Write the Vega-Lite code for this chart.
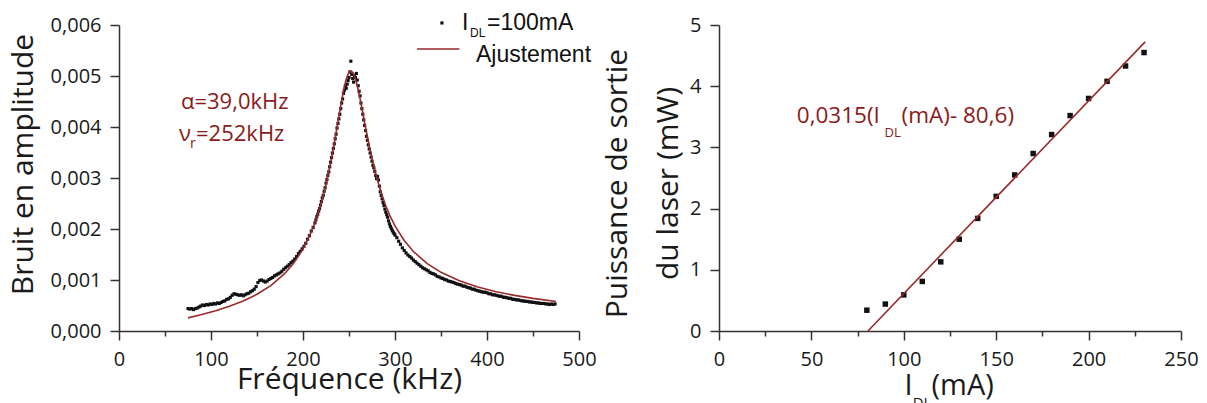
{
  "$schema": "https://vega.github.io/schema/vega-lite/v6.json",
  "autosize": {"type": "pad"},
  "padding": {"left": 8, "top": 11, "right": 0, "bottom": 0},
  "background": "white",
  "config": {
    "view": {"stroke": null},
    "font": "Open Sans",
    "axis": {"grid": false, "domainColor": "#333333", "domainWidth": 1.5, "tickColor": "#333333", "tickWidth": 1.5, "labelFont": "Open Sans", "labelFontSize": 20, "labelColor": "#1a1a1a", "titleFont": "Open Sans", "titleFontSize": 30, "titleFontWeight": "normal", "titleColor": "#1a1a1a", "labelPadding": 9, "labelFlush": false, "labelOverlap": false}
  },
  "spacing": 140,
  "bounds": "flush",
  "datasets": {
    "noise": [
      {"f":75,"a":0.00044},{"f":77,"a":0.00043},{"f":79,"a":0.00044},{"f":81,"a":0.00042},{"f":83,"a":0.00044},{"f":85,"a":0.00045},{"f":87,"a":0.00047},{"f":89,"a":0.00049},{"f":91,"a":0.00051},{"f":93,"a":0.0005},{"f":95,"a":0.00052},{"f":97,"a":0.00051},{"f":99,"a":0.00053},{"f":101,"a":0.00052},{"f":103,"a":0.00054},{"f":105,"a":0.00053},{"f":107,"a":0.00055},{"f":109,"a":0.00054},{"f":111,"a":0.00056},{"f":113,"a":0.00058},{"f":115,"a":0.00059},{"f":117,"a":0.00062},{"f":119,"a":0.00063},{"f":121,"a":0.00066},{"f":123,"a":0.0007},{"f":125,"a":0.00073},{"f":127,"a":0.00072},{"f":129,"a":0.00071},{"f":131,"a":0.0007},{"f":133,"a":0.00071},{"f":135,"a":0.00069},{"f":137,"a":0.00071},{"f":139,"a":0.00073},{"f":141,"a":0.00074},{"f":143,"a":0.00077},{"f":145,"a":0.00079},{"f":147,"a":0.00082},{"f":149,"a":0.00087},{"f":151,"a":0.00095},{"f":153,"a":0.00099},{"f":155,"a":0.001},{"f":157,"a":0.00098},{"f":159,"a":0.00096},{"f":161,"a":0.00098},{"f":163,"a":0.00101},{"f":165,"a":0.00103},{"f":167,"a":0.00105},{"f":169,"a":0.00108},{"f":171,"a":0.0011},{"f":173,"a":0.00112},{"f":175,"a":0.00114},{"f":177,"a":0.00117},{"f":179,"a":0.00121},{"f":181,"a":0.00124},{"f":183,"a":0.00127},{"f":185,"a":0.0013},{"f":187,"a":0.00134},{"f":189,"a":0.00137},{"f":191,"a":0.00141},{"f":193,"a":0.00146},{"f":195,"a":0.00152},{"f":197,"a":0.00156},{"f":199,"a":0.00161},{"f":201,"a":0.00166},{"f":203,"a":0.00172},{"f":205,"a":0.0018},{"f":207,"a":0.00187},{"f":209,"a":0.00196},{"f":211,"a":0.00203},{"f":213,"a":0.00212},
      {"f":214,"a":0.00218},{"f":215,"a":0.00224},{"f":216,"a":0.00229},{"f":217,"a":0.00235},{"f":218,"a":0.0024},{"f":219,"a":0.00247},{"f":220,"a":0.00254},{"f":221,"a":0.00261},{"f":222,"a":0.00266},{"f":223,"a":0.00274},{"f":224,"a":0.00281},{"f":225,"a":0.0029},{"f":226,"a":0.00297},{"f":227,"a":0.00305},{"f":228,"a":0.00312},{"f":229,"a":0.00322},{"f":230,"a":0.00331},{"f":231,"a":0.0034},{"f":232,"a":0.00349},{"f":233,"a":0.00358},{"f":234,"a":0.00367},{"f":235,"a":0.00377},{"f":236,"a":0.00386},{"f":237,"a":0.00398},{"f":238,"a":0.00407},{"f":239,"a":0.00416},{"f":240,"a":0.00425},{"f":241,"a":0.00436},{"f":242,"a":0.00447},{"f":243,"a":0.00455},{"f":244,"a":0.00466},{"f":245,"a":0.00472},{"f":246,"a":0.0048},{"f":247,"a":0.00476},{"f":248,"a":0.00484},{"f":249,"a":0.00491},{"f":250,"a":0.00497},{"f":251,"a":0.00508},{"f":252,"a":0.00529},{"f":253,"a":0.00503},{"f":254,"a":0.00495},{"f":255,"a":0.00488},{"f":256,"a":0.00501},{"f":257,"a":0.00497},{"f":258,"a":0.00505},{"f":259,"a":0.00492},{"f":260,"a":0.00481},{"f":261,"a":0.0047},{"f":262,"a":0.00461},{"f":263,"a":0.00447},{"f":264,"a":0.00436},{"f":265,"a":0.00425},{"f":266,"a":0.00414},{"f":267,"a":0.00403},{"f":268,"a":0.00393},{"f":269,"a":0.00382},{"f":270,"a":0.00374},{"f":271,"a":0.00365},{"f":272,"a":0.00357},{"f":273,"a":0.00349},{"f":274,"a":0.00341},{"f":275,"a":0.00333},{"f":276,"a":0.00325},{"f":277,"a":0.0032},{"f":278,"a":0.00313},{"f":279,"a":0.00305},{"f":280,"a":0.00299},{"f":281,"a":0.00303},{"f":282,"a":0.00296},{"f":283,"a":0.00284},{"f":284,"a":0.00273},{"f":285,"a":0.00266},{"f":286,"a":0.00259},{"f":287,"a":0.00252},{"f":288,"a":0.00246},{"f":289,"a":0.00239},{"f":290,"a":0.00233},{"f":291,"a":0.00228},{"f":292,"a":0.00223},{"f":293,"a":0.00216},{"f":294,"a":0.0021},{"f":295,"a":0.00205},{"f":296,"a":0.00201},{"f":297,"a":0.00197},{"f":298,"a":0.00194},{"f":299,"a":0.00191},{"f":300,"a":0.00188},
      {"f":302,"a":0.00183},{"f":304,"a":0.00176},{"f":306,"a":0.0017},{"f":308,"a":0.00163},{"f":310,"a":0.00158},{"f":312,"a":0.00153},{"f":314,"a":0.00149},{"f":316,"a":0.00146},{"f":318,"a":0.00143},{"f":320,"a":0.00139},{"f":322,"a":0.00136},{"f":324,"a":0.00133},{"f":326,"a":0.0013},{"f":328,"a":0.00127},{"f":330,"a":0.00124},{"f":332,"a":0.00122},{"f":334,"a":0.0012},{"f":336,"a":0.00118},{"f":338,"a":0.00115},{"f":340,"a":0.00113},{"f":342,"a":0.00112},{"f":344,"a":0.0011},{"f":346,"a":0.00107},{"f":348,"a":0.00106},{"f":350,"a":0.00104},{"f":352,"a":0.00103},{"f":354,"a":0.00101},{"f":356,"a":0.001},{"f":358,"a":0.00098},{"f":360,"a":0.00097},{"f":362,"a":0.00096},{"f":364,"a":0.00095},{"f":366,"a":0.00093},{"f":368,"a":0.00092},{"f":370,"a":0.00091},{"f":372,"a":0.0009},{"f":374,"a":0.00088},{"f":376,"a":0.00088},{"f":378,"a":0.00086},{"f":380,"a":0.00085},{"f":382,"a":0.00084},{"f":384,"a":0.00082},{"f":386,"a":0.00082},{"f":388,"a":0.0008},{"f":390,"a":0.00079},{"f":392,"a":0.00078},{"f":394,"a":0.00077},{"f":396,"a":0.00076},{"f":398,"a":0.00076},{"f":400,"a":0.00075},{"f":402,"a":0.00073},{"f":404,"a":0.00073},{"f":406,"a":0.00071},{"f":408,"a":0.00071},{"f":410,"a":0.0007},{"f":412,"a":0.00069},{"f":414,"a":0.00068},{"f":416,"a":0.00068},{"f":418,"a":0.00066},{"f":420,"a":0.00066},{"f":422,"a":0.00065},{"f":424,"a":0.00064},{"f":426,"a":0.00064},{"f":428,"a":0.00062},{"f":430,"a":0.00062},{"f":432,"a":0.00061},{"f":434,"a":0.00061},{"f":436,"a":0.0006},{"f":438,"a":0.00059},{"f":440,"a":0.00059},{"f":442,"a":0.00058},{"f":444,"a":0.00058},{"f":446,"a":0.00057},{"f":448,"a":0.00057},{"f":450,"a":0.00056},{"f":452,"a":0.00056},{"f":454,"a":0.00055},{"f":456,"a":0.00055},{"f":458,"a":0.00054},{"f":460,"a":0.00054},{"f":462,"a":0.00054},{"f":464,"a":0.00053},{"f":466,"a":0.00053},{"f":468,"a":0.00052},{"f":470,"a":0.00053},{"f":472,"a":0.00052},{"f":474,"a":0.00053}
    ],
    "fit": [
      {"f":75,"a":0.000257},{"f":90,"a":0.000323},{"f":105,"a":0.000397},{"f":120,"a":0.000484},{"f":135,"a":0.000589},{"f":150,"a":0.00072},{"f":165,"a":0.000891},{"f":180,"a":0.001123},{"f":190,"a":0.001331},{"f":200,"a":0.001606},{"f":210,"a":0.001983},{"f":215,"a":0.002227},{"f":220,"a":0.002519},{"f":225,"a":0.002872},{"f":230,"a":0.003294},{"f":232,"a":0.003483},{"f":235,"a":0.003785},{"f":238,"a":0.004101},{"f":240,"a":0.004314},{"f":242,"a":0.004518},{"f":244,"a":0.004707},{"f":246,"a":0.004869},{"f":248,"a":0.004994},{"f":250,"a":0.005073},{"f":252,"a":0.0051},{"f":254,"a":0.005074},{"f":256,"a":0.004998},{"f":258,"a":0.004879},{"f":260,"a":0.004729},{"f":262,"a":0.004556},{"f":264,"a":0.004371},{"f":268,"a":0.00399},{"f":272,"a":0.003628},{"f":276,"a":0.003302},{"f":280,"a":0.003015},{"f":285,"a":0.00271},{"f":290,"a":0.002455},{"f":295,"a":0.002241},{"f":300,"a":0.00206},{"f":310,"a":0.001774},{"f":320,"a":0.001558},{"f":335,"a":0.001321},{"f":350,"a":0.00115},{"f":370,"a":0.000984},{"f":390,"a":0.000863},{"f":410,"a":0.000771},{"f":430,"a":0.000698},{"f":450,"a":0.000639},{"f":475,"a":0.000579}
    ],
    "meas": [
      {"i":80,"p":0.34},{"i":90,"p":0.44},{"i":100,"p":0.59},{"i":110,"p":0.81},{"i":120,"p":1.13},{"i":130,"p":1.5},{"i":140,"p":1.84},{"i":150,"p":2.2},{"i":160,"p":2.55},{"i":170,"p":2.9},{"i":180,"p":3.21},{"i":190,"p":3.52},{"i":200,"p":3.8},{"i":210,"p":4.08},{"i":220,"p":4.33},{"i":230,"p":4.55}
    ],
    "lin": [{"i":80.6,"p":0},{"i":230.6,"p":4.725}]
  },
  "hconcat": [
    {
      "width": 460,
      "height": 306,
      "layer": [
        {
          "data": {"name": "noise"},
          "mark": {"type": "point", "shape": "square", "filled": true, "size": 10, "color": "#111111", "opacity": 1},
          "encoding": {
            "x": {"field": "f", "type": "quantitative", "scale": {"domain": [0, 500], "nice": false},
              "axis": {"title": "Fréquence (kHz)", "titlePadding": -5, "values": [0,50,100,150,200,250,300,350,400,450,500],
                "labelExpr": "datum.value % 100 == 0 ? datum.label : ''",
                "tickSize": {"condition": {"test": "datum.value % 100 == 0", "value": 9}, "value": 5}}},
            "y": {"field": "a", "type": "quantitative", "scale": {"domain": [0, 0.006], "nice": false},
              "axis": {"title": "Bruit en amplitude", "titlePadding": 12, "titleY": 139, "values": [0,0.0005,0.001,0.0015,0.002,0.0025,0.003,0.0035,0.004,0.0045,0.005,0.0055,0.006],
                "labelExpr": "round(datum.value*2000) % 2 == 0 ? replace(format(datum.value, '.3f'), '.', ',') : ''",
                "tickSize": {"condition": {"test": "round(datum.value*2000) % 2 == 0", "value": 9}, "value": 5}}}
          }
        },
        {
          "data": {"name": "fit"},
          "mark": {"type": "line", "color": "#9A2A2A", "strokeWidth": 1.6},
          "encoding": {"x": {"field": "f", "type": "quantitative"}, "y": {"field": "a", "type": "quantitative"}}
        },
        {
          "data": {"values": [{"f": 324, "f2": 370, "a": 0.00553}]},
          "mark": {"type": "rule", "color": "#9A2A2A", "strokeWidth": 1.6},
          "encoding": {"x": {"field": "f", "type": "quantitative"}, "x2": {"field": "f2"}, "y": {"field": "a", "type": "quantitative"}}
        },
        {
          "data": {"values": [{"f": 351, "a": 0.00604}]},
          "mark": {"type": "point", "shape": "square", "filled": true, "size": 10, "color": "#111111", "opacity": 1},
          "encoding": {"x": {"field": "f", "type": "quantitative"}, "y": {"field": "a", "type": "quantitative"}}
        },
        {
          "data": {"values": [{"f": 372.8, "a": 0.00604, "t": "I"}, {"f": 400, "a": 0.00604, "t": "=100mA"}, {"f": 388, "a": 0.00542, "t": "Ajustement"}]},
          "mark": {"type": "text", "font": "Liberation Sans", "fontSize": 23, "color": "#111111", "align": "left", "baseline": "middle"},
          "encoding": {"x": {"field": "f", "type": "quantitative"}, "y": {"field": "a", "type": "quantitative"}, "text": {"field": "t"}}
        },
        {
          "data": {"values": [{"f": 381.5, "a": 0.00584, "t": "DL"}]},
          "mark": {"type": "text", "font": "Liberation Sans", "fontSize": 12, "color": "#111111", "align": "left", "baseline": "middle"},
          "encoding": {"x": {"field": "f", "type": "quantitative"}, "y": {"field": "a", "type": "quantitative"}, "text": {"field": "t"}}
        },
        {
          "data": {"values": [{"f": 67.4, "a": 0.0045, "t": "α=39,0kHz"}, {"f": 65.2, "a": 0.00386, "t": "ν"}, {"f": 83.7, "a": 0.00386, "t": "=252kHz"}]},
          "mark": {"type": "text", "font": "Open Sans", "fontSize": 22, "color": "#8B1A1A", "align": "left", "baseline": "middle"},
          "encoding": {"x": {"field": "f", "type": "quantitative"}, "y": {"field": "a", "type": "quantitative"}, "text": {"field": "t"}}
        },
        {
          "data": {"values": [{"f": 77.2, "a": 0.00366, "t": "r"}]},
          "mark": {"type": "text", "font": "Open Sans", "fontSize": 14, "color": "#8B1A1A", "align": "left", "baseline": "middle"},
          "encoding": {"x": {"field": "f", "type": "quantitative"}, "y": {"field": "a", "type": "quantitative"}, "text": {"field": "t"}}
        }
      ]
    },
    {
      "width": 462,
      "height": 306,
      "layer": [
        {
          "data": {"name": "meas"},
          "mark": {"type": "point", "shape": "square", "filled": true, "size": 30, "color": "#111111", "opacity": 1},
          "encoding": {
            "x": {"field": "i", "type": "quantitative", "scale": {"domain": [0, 250], "nice": false},
              "axis": {"title": null, "values": [0,25,50,75,100,125,150,175,200,225,250],
                "labelExpr": "datum.value % 50 == 0 ? format(datum.value, 'd') : ''",
                "tickSize": {"condition": {"test": "datum.value % 50 == 0", "value": 9}, "value": 5}}},
            "y": {"field": "p", "type": "quantitative", "scale": {"domain": [0, 5], "nice": false},
              "axis": {"title": ["Puissance de sortie", "du laser (mW)"], "titlePadding": 6, "titleLineHeight": 51, "titleY": 158, "values": [0,0.5,1,1.5,2,2.5,3,3.5,4,4.5,5],
                "labelExpr": "datum.value % 1 == 0 ? format(datum.value, 'd') : ''",
                "tickSize": {"condition": {"test": "datum.value % 1 == 0", "value": 9}, "value": 5}}}
          }
        },
        {
          "data": {"name": "lin"},
          "mark": {"type": "line", "color": "#9A2A2A", "strokeWidth": 1.6},
          "encoding": {"x": {"field": "i", "type": "quantitative"}, "y": {"field": "p", "type": "quantitative"}}
        },
        {
          "data": {"values": [{"i": 42.1, "p": 3.513, "t": "0,0315(I"}, {"i": 98.8, "p": 3.513, "t": "(mA)- 80,6)"}]},
          "mark": {"type": "text", "font": "Open Sans", "fontSize": 22.5, "color": "#8B1A1A", "align": "left", "baseline": "middle"},
          "encoding": {"x": {"field": "i", "type": "quantitative"}, "y": {"field": "p", "type": "quantitative"}, "text": {"field": "t"}}
        },
        {
          "data": {"values": [{"i": 89.6, "p": 3.235, "t": "DL"}]},
          "mark": {"type": "text", "font": "Open Sans", "fontSize": 13, "color": "#8B1A1A", "align": "left", "baseline": "middle"},
          "encoding": {"x": {"field": "i", "type": "quantitative"}, "y": {"field": "p", "type": "quantitative"}, "text": {"field": "t"}}
        },
        {
          "data": {"values": [{"i": 100.4, "p": -1.046, "t": "I"}, {"i": 115, "p": -1.046, "t": "(mA)"}]},
          "mark": {"type": "text", "font": "Open Sans", "fontSize": 29, "color": "#1a1a1a", "align": "left", "baseline": "alphabetic"},
          "encoding": {"x": {"field": "i", "type": "quantitative"}, "y": {"field": "p", "type": "quantitative"}, "text": {"field": "t"}}
        },
        {
          "data": {"values": [{"i": 104.8, "p": -1.26, "t": "DL"}]},
          "mark": {"type": "text", "font": "Open Sans", "fontSize": 15, "color": "#1a1a1a", "align": "left", "baseline": "alphabetic"},
          "encoding": {"x": {"field": "i", "type": "quantitative"}, "y": {"field": "p", "type": "quantitative"}, "text": {"field": "t"}}
        }
      ]
    }
  ]
}
